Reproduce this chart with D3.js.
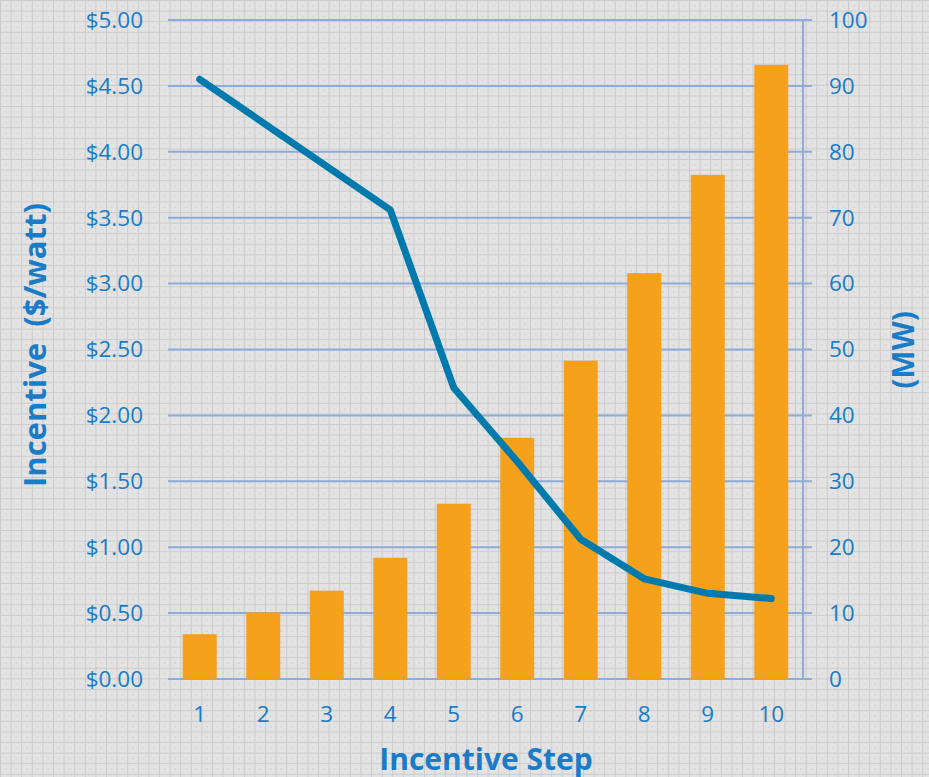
<!DOCTYPE html>
<html>
<head>
<meta charset="utf-8">
<script src="https://cdn.jsdelivr.net/npm/d3@7"></script>
<style>
  body { margin: 0; background: #e1e1e1; }
  svg { display: block; }
  text { font-family: "Open Sans", "Noto Sans", sans-serif; fill: #1a7bc6; }
</style>
</head>
<body>
<svg id="chart" width="929" height="777"></svg>
<script>
// dados
var steps = [1, 2, 3, 4, 5, 6, 7, 8, 9, 10];
var megawatts = [6.8, 10.1, 13.4, 18.4, 26.6, 36.6, 48.3, 61.6, 76.5, 93.2];
var incentive = [4.55, 4.22, 3.89, 3.56, 2.21, 1.65, 1.06, 0.76, 0.65, 0.61];
var leftTicks = [0, 0.5, 1, 1.5, 2, 2.5, 3, 3.5, 4, 4.5, 5];
var rightTicks = [0, 10, 20, 30, 40, 50, 60, 70, 80, 90, 100];

var corBarra = '#f5a11c';
var corLinha = '#0079ad';
var corGrade = '#8eabd9';

var svg = d3.select('#chart');

// fundo quadriculado
var defs = svg.append('defs');
var pat = defs.append('pattern')
    .attr('id', 'quadric')
    .attr('width', 10.6)
    .attr('height', 10.6)
    .attr('patternUnits', 'userSpaceOnUse');
pat.append('rect').attr('width', 10.6).attr('height', 10.6).attr('fill', '#e3e3e3');
pat.append('path').attr('d', 'M0,0.5H10.6M0.5,0V10.6')
    .attr('stroke', '#cbcbcb').attr('stroke-width', 1);
pat.append('circle').attr('cx', 5.8).attr('cy', 5.8).attr('r', 0.6).attr('fill', '#bdbdbd');
svg.append('rect').attr('width', 929).attr('height', 777).attr('fill', 'url(#quadric)');

var plotLeft = 168, plotRight = 803, plotTop = 20, plotBottom = 679;

var x = d3.scaleBand()
    .domain(steps)
    .range([plotLeft, plotRight])
    .paddingInner(0.465)
    .paddingOuter(0.2325);

var yLeft = d3.scaleLinear().domain([0, 5]).range([plotBottom, plotTop]);
var yRight = d3.scaleLinear().domain([0, 100]).range([plotBottom, plotTop]);

// linhas de grade
svg.append('g')
    .selectAll('line')
    .data(leftTicks)
    .enter()
    .append('line')
    .attr('x1', plotLeft)
    .attr('x2', plotRight + 9)
    .attr('y1', function (d) { return yLeft(d); })
    .attr('y2', function (d) { return yLeft(d); })
    .attr('stroke', corGrade)
    .attr('stroke-width', 2);

// barras (MW)
svg.append('g')
    .selectAll('rect')
    .data(megawatts)
    .enter()
    .append('rect')
    .attr('x', function (d, i) { return x(steps[i]); })
    .attr('width', x.bandwidth())
    .attr('y', function (d) { return yRight(d); })
    .attr('height', function (d) { return yRight(0) - yRight(d); })
    .attr('fill', corBarra);

// eixo direito
svg.append('line')
    .attr('x1', plotRight).attr('x2', plotRight)
    .attr('y1', plotTop).attr('y2', plotBottom)
    .attr('stroke', corGrade).attr('stroke-width', 2);

// linha do incentivo
var linha = d3.line()
    .x(function (d, i) { return x(steps[i]) + x.bandwidth() / 2; })
    .y(function (d) { return yLeft(d); });

svg.append('path')
    .datum(incentive)
    .attr('d', linha)
    .attr('fill', 'none')
    .attr('stroke', corLinha)
    .attr('stroke-width', 7)
    .attr('stroke-linecap', 'round')
    .attr('stroke-linejoin', 'round');

// rotulos
svg.append('g')
    .selectAll('text')
    .data(leftTicks)
    .enter()
    .append('text')
    .attr('x', 143)
    .attr('y', function (d) { return yLeft(d); })
    .attr('dy', '0.35em')
    .attr('text-anchor', 'end')
    .style('font-size', '22.5px')
    .text(function (d) { return '$' + d.toFixed(2); });

svg.append('g')
    .selectAll('text')
    .data(rightTicks)
    .enter()
    .append('text')
    .attr('x', 829)
    .attr('y', function (d) { return yRight(d); })
    .attr('dy', '0.35em')
    .attr('text-anchor', 'start')
    .style('font-size', '22.5px')
    .text(function (d) { return d; });

svg.append('g')
    .selectAll('text')
    .data(steps)
    .enter()
    .append('text')
    .attr('x', function (d) { return x(d) + x.bandwidth() / 2; })
    .attr('y', 714)
    .attr('dy', '0.35em')
    .attr('text-anchor', 'middle')
    .style('font-size', '22.5px')
    .text(function (d) { return d; });

// titulos dos eixos
svg.append('text')
    .attr('x', 486)
    .attr('y', 759)
    .attr('dy', '0.35em')
    .attr('text-anchor', 'middle')
    .style('font-size', '30px')
    .style('font-weight', 'bold')
    .text('Incentive Step');

svg.append('text')
    .attr('transform', 'translate(35,345) rotate(-90)')
    .attr('dy', '0.35em')
    .attr('text-anchor', 'middle')
    .style('font-size', '31px')
    .style('font-weight', 'bold')
    .style('white-space', 'pre')
    .text('Incentive  ($/watt)');

svg.append('text')
    .attr('transform', 'translate(903,350) rotate(-90)')
    .attr('dy', '0.35em')
    .attr('text-anchor', 'middle')
    .style('font-size', '30px')
    .style('font-weight', 'bold')
    .text('(MW)');
</script>
</body>
</html>
